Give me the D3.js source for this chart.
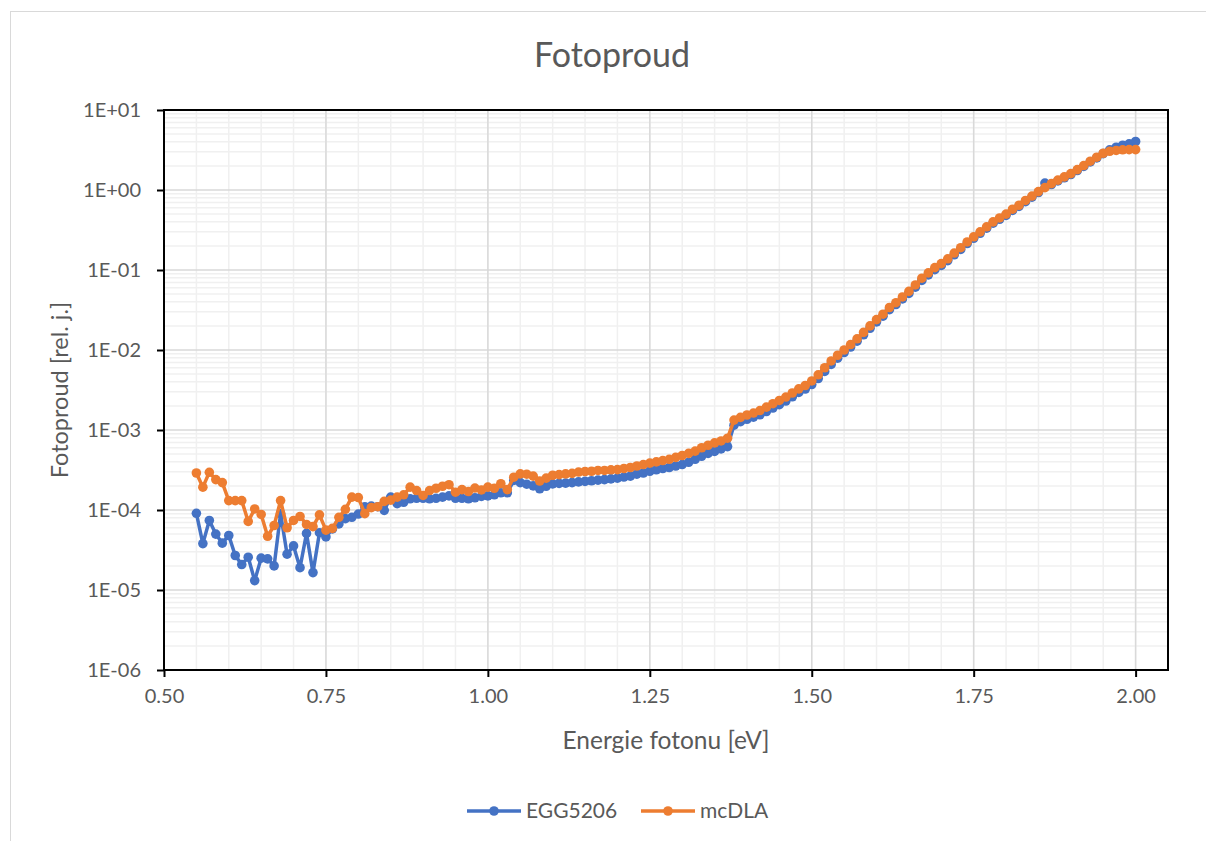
<!DOCTYPE html>
<html>
<head>
<meta charset="utf-8">
<script src="https://cdnjs.cloudflare.com/ajax/libs/d3/7.8.5/d3.min.js"></script>
<style>
  body { margin: 0; background: #fff; }
  text { font-family: Lato, "Open Sans", sans-serif; fill: #595959; }
  .grid-minor { stroke: #f0f0f0; stroke-width: 1.5; }
  .grid-major { stroke: #d9d9d9; stroke-width: 1.5; }
</style>
</head>
<body>
<div id="chart"></div>
<script>
// photon energy [eV]
let energy = [
  0.55, 0.56, 0.57, 0.58, 0.59, 0.60, 0.61, 0.62, 0.63, 0.64, 0.65, 0.66, 0.67, 0.68, 0.69,
  0.70, 0.71, 0.72, 0.73, 0.74, 0.75, 0.76, 0.77, 0.78, 0.79, 0.80, 0.81, 0.82, 0.83, 0.84,
  0.85, 0.86, 0.87, 0.88, 0.89, 0.90, 0.91, 0.92, 0.93, 0.94, 0.95, 0.96, 0.97, 0.98, 0.99,
  1.00, 1.01, 1.02, 1.03, 1.04, 1.05, 1.06, 1.07, 1.08, 1.09, 1.10, 1.11, 1.12, 1.13, 1.14,
  1.15, 1.16, 1.17, 1.18, 1.19, 1.20, 1.21, 1.22, 1.23, 1.24, 1.25, 1.26, 1.27, 1.28, 1.29,
  1.30, 1.31, 1.32, 1.33, 1.34, 1.35, 1.36, 1.37, 1.38, 1.39, 1.40, 1.41, 1.42, 1.43, 1.44,
  1.45, 1.46, 1.47, 1.48, 1.49, 1.50, 1.51, 1.52, 1.53, 1.54, 1.55, 1.56, 1.57, 1.58, 1.59,
  1.60, 1.61, 1.62, 1.63, 1.64, 1.65, 1.66, 1.67, 1.68, 1.69, 1.70, 1.71, 1.72, 1.73, 1.74,
  1.75, 1.76, 1.77, 1.78, 1.79, 1.80, 1.81, 1.82, 1.83, 1.84, 1.85, 1.86, 1.87, 1.88, 1.89,
  1.90, 1.91, 1.92, 1.93, 1.94, 1.95, 1.96, 1.97, 1.98, 1.99, 2.00
];

// photocurrent [rel. j.] - EGG5206
let egg5206 = [
  9.1e-5, 3.8e-5, 7.4e-5, 5.0e-5, 3.85e-5, 4.8e-5, 2.7e-5, 2.08e-5, 2.57e-5, 1.31e-5, 2.5e-5, 2.45e-5, 2.0e-5, 9.0e-5, 2.8e-5,
  3.56e-5, 1.9e-5, 5.1e-5, 1.65e-5, 5.2e-5, 4.6e-5, 5.8e-5, 6.7e-5, 7.8e-5, 8.1e-5, 8.9e-5, 1.1e-4, 1.12e-4, 1.1e-4, 9.9e-5,
  1.45e-4, 1.2e-4, 1.25e-4, 1.38e-4, 1.4e-4, 1.4e-4, 1.38e-4, 1.4e-4, 1.45e-4, 1.5e-4, 1.4e-4, 1.4e-4, 1.38e-4, 1.42e-4, 1.48e-4,
  1.5e-4, 1.55e-4, 1.64e-4, 1.64e-4, 2.34e-4, 2.2e-4, 2.1e-4, 2.0e-4, 1.84e-4, 1.98e-4, 2.12e-4, 2.15e-4, 2.17e-4, 2.2e-4, 2.25e-4,
  2.28e-4, 2.32e-4, 2.36e-4, 2.4e-4, 2.45e-4, 2.5e-4, 2.58e-4, 2.65e-4, 2.8e-4, 2.9e-4, 3.05e-4, 3.18e-4, 3.3e-4, 3.4e-4, 3.55e-4,
  3.7e-4, 3.95e-4, 4.3e-4, 4.7e-4, 5.1e-4, 5.4e-4, 5.8e-4, 6.2e-4, 1.15e-3, 1.27e-3, 1.36e-3, 1.45e-3, 1.55e-3, 1.7e-3, 1.88e-3,
  2.07e-3, 2.3e-3, 2.6e-3, 2.95e-3, 3.25e-3, 3.7e-3, 4.4e-3, 5.4e-3, 6.6e-3, 7.9e-3, 9.3e-3, 1.09e-2, 1.29e-2, 1.55e-2, 1.87e-2,
  2.25e-2, 2.65e-2, 3.2e-2, 3.7e-2, 4.35e-2, 5.1e-2, 6.1e-2, 7.4e-2, 8.7e-2, 0.101, 0.114, 0.131, 0.155, 0.181, 0.214,
  0.249, 0.288, 0.333, 0.385, 0.43, 0.482, 0.555, 0.625, 0.715, 0.815, 0.93, 1.22, 1.17, 1.3, 1.42,
  1.56, 1.75, 1.97, 2.24, 2.52, 2.85, 3.17, 3.43, 3.63, 3.78, 4.04
];

// photocurrent [rel. j.] - mcDLA
let mcdla = [
  2.9e-4, 1.93e-4, 2.96e-4, 2.4e-4, 2.2e-4, 1.31e-4, 1.31e-4, 1.31e-4, 7.2e-5, 1.03e-4, 8.8e-5, 4.7e-5, 6.4e-5, 1.31e-4, 6.0e-5,
  7.4e-5, 8.3e-5, 6.6e-5, 6.2e-5, 8.7e-5, 5.6e-5, 5.9e-5, 8.1e-5, 1.02e-4, 1.45e-4, 1.43e-4, 9.0e-5, 1.07e-4, 1.1e-4, 1.28e-4,
  1.33e-4, 1.45e-4, 1.55e-4, 1.93e-4, 1.75e-4, 1.52e-4, 1.75e-4, 1.87e-4, 1.98e-4, 2.07e-4, 1.67e-4, 1.8e-4, 1.7e-4, 1.88e-4, 1.78e-4,
  1.93e-4, 1.87e-4, 2.13e-4, 1.8e-4, 2.57e-4, 2.83e-4, 2.8e-4, 2.65e-4, 2.3e-4, 2.5e-4, 2.72e-4, 2.77e-4, 2.83e-4, 2.87e-4, 2.98e-4,
  3.03e-4, 3.05e-4, 3.12e-4, 3.12e-4, 3.18e-4, 3.2e-4, 3.3e-4, 3.4e-4, 3.55e-4, 3.7e-4, 3.85e-4, 4.0e-4, 4.15e-4, 4.3e-4, 4.55e-4,
  4.8e-4, 5.1e-4, 5.45e-4, 6.0e-4, 6.45e-4, 6.9e-4, 7.3e-4, 7.9e-4, 1.33e-3, 1.44e-3, 1.54e-3, 1.63e-3, 1.75e-3, 1.93e-3, 2.13e-3,
  2.34e-3, 2.58e-3, 2.9e-3, 3.27e-3, 3.6e-3, 4.1e-3, 4.9e-3, 6.0e-3, 7.3e-3, 8.6e-3, 1.0e-2, 1.17e-2, 1.38e-2, 1.66e-2, 2.0e-2,
  2.4e-2, 2.8e-2, 3.4e-2, 3.9e-2, 4.6e-2, 5.4e-2, 6.5e-2, 7.9e-2, 9.2e-2, 0.107, 0.12, 0.138, 0.163, 0.19, 0.224,
  0.26, 0.30, 0.347, 0.40, 0.447, 0.50, 0.575, 0.645, 0.74, 0.84, 0.955, 1.07, 1.2, 1.33, 1.46,
  1.6, 1.8, 2.02, 2.29, 2.57, 2.88, 3.05, 3.12, 3.18, 3.2, 3.2
];

let seriesNames = ["EGG5206", "mcDLA"];
let seriesColors = ["#4472C4", "#ED7D31"];
let xTicks = [0.5, 0.75, 1.0, 1.25, 1.5, 1.75, 2.0];
let yTicks = [1e-6, 1e-5, 1e-4, 1e-3, 1e-2, 1e-1, 1, 10];

// dimensions
let width = 1206;
let height = 841;
let margin = {top: 110, right: 38, bottom: 171, left: 164};

let svg = d3.select("#chart").append("svg")
  .attr("width", width)
  .attr("height", height);

// chart border
svg.append("rect")
  .attr("x", 10.5).attr("y", 11.5)
  .attr("width", 1210).attr("height", 840)
  .attr("fill", "none")
  .attr("stroke", "#d9d9d9");

let x = d3.scaleLinear()
  .domain([0.5, 2.05])
  .range([margin.left, width - margin.right]);

let y = d3.scaleLog()
  .domain([1e-6, 10])
  .range([height - margin.bottom, margin.top]);

// minor gridlines: every 0.05 eV, 2..9 within each decade
let xMinor = d3.range(0, 32).map(i => 0.5 + i * 0.05);
let yMinor = [];
yTicks.slice(0, -1).forEach(d => { for (let k = 2; k < 10; k++) yMinor.push(d * k); });

let grid = svg.append("g");
grid.selectAll(".gx").data(xMinor).enter().append("line")
  .attr("class", "grid-minor")
  .attr("x1", d => x(d)).attr("x2", d => x(d))
  .attr("y1", y.range()[0]).attr("y2", y.range()[1]);
grid.selectAll(".gy").data(yMinor).enter().append("line")
  .attr("class", "grid-minor")
  .attr("y1", d => y(d)).attr("y2", d => y(d))
  .attr("x1", x.range()[0]).attr("x2", x.range()[1]);
grid.selectAll(".gX").data(xTicks).enter().append("line")
  .attr("class", "grid-major")
  .attr("x1", d => x(d)).attr("x2", d => x(d))
  .attr("y1", y.range()[0]).attr("y2", y.range()[1]);
grid.selectAll(".gY").data(yTicks).enter().append("line")
  .attr("class", "grid-major")
  .attr("y1", d => y(d)).attr("y2", d => y(d))
  .attr("x1", x.range()[0]).attr("x2", x.range()[1]);

// axes
let fmtExp = d => {
  let e = Math.round(Math.log10(d));
  return "1E" + (e < 0 ? "-" : "+") + String(Math.abs(e)).padStart(2, "0");
};

let xAxis = svg.append("g")
  .attr("transform", "translate(0," + y.range()[0] + ")")
  .call(d3.axisBottom(x).tickValues(xTicks).tickFormat(d3.format(".2f")).tickSize(7).tickSizeOuter(0).tickPadding(12));
let yAxis = svg.append("g")
  .attr("transform", "translate(" + x.range()[0] + ",0)")
  .call(d3.axisLeft(y).tickValues(yTicks).tickFormat(fmtExp).tickSize(7).tickSizeOuter(0).tickPadding(16));

[xAxis, yAxis].forEach(a => {
  a.select(".domain").remove();
  a.selectAll(".tick line").attr("stroke", "#000").attr("stroke-width", 2);
  a.selectAll(".tick text").style("font-size", "20px").attr("fill", "#595959");
});

// plot area frame
svg.append("rect")
  .attr("x", x.range()[0]).attr("y", y.range()[1])
  .attr("width", x.range()[1] - x.range()[0])
  .attr("height", y.range()[0] - y.range()[1])
  .attr("fill", "none")
  .attr("stroke", "#000")
  .attr("stroke-width", 2);

// series
let seriesData = [egg5206, mcdla];
let line = d3.line().x(d => x(d[0])).y(d => y(d[1]));

seriesData.forEach((vals, i) => {
  let pts = energy.map((e, j) => [e, vals[j]]);
  let g = svg.append("g");
  g.append("path")
    .datum(pts)
    .attr("d", line)
    .attr("fill", "none")
    .attr("stroke", seriesColors[i])
    .attr("stroke-width", 3.5)
    .attr("stroke-linejoin", "round");
  g.selectAll("circle").data(pts).enter().append("circle")
    .attr("cx", d => x(d[0]))
    .attr("cy", d => y(d[1]))
    .attr("r", 4.8)
    .attr("fill", seriesColors[i]);
});

// titles
svg.append("text")
  .attr("x", 612).attr("y", 67)
  .attr("text-anchor", "middle")
  .style("font-size", "34px")
  .text("Fotoproud");

svg.append("text")
  .attr("x", (x.range()[0] + x.range()[1]) / 2).attr("y", 749)
  .attr("text-anchor", "middle")
  .style("font-size", "24.5px")
  .text("Energie fotonu [eV]");

svg.append("text")
  .attr("transform", "translate(68," + (y.range()[0] + y.range()[1]) / 2 + ") rotate(-90)")
  .attr("text-anchor", "middle")
  .style("font-size", "23.5px")
  .text("Fotoproud [rel. j.]");

// legend
let legendX = [467, 641];
let legend = svg.append("g");
seriesNames.forEach((name, i) => {
  let lg = legend.append("g").attr("transform", "translate(" + legendX[i] + ",811)");
  lg.append("line")
    .attr("x1", 0).attr("x2", 54)
    .attr("stroke", seriesColors[i])
    .attr("stroke-width", 3.5);
  lg.append("circle").attr("cx", 27).attr("r", 4.8).attr("fill", seriesColors[i]);
  lg.append("text")
    .attr("x", 59).attr("dy", "0.35em")
    .style("font-size", "21px")
    .text(name);
});
</script>
</body>
</html>
